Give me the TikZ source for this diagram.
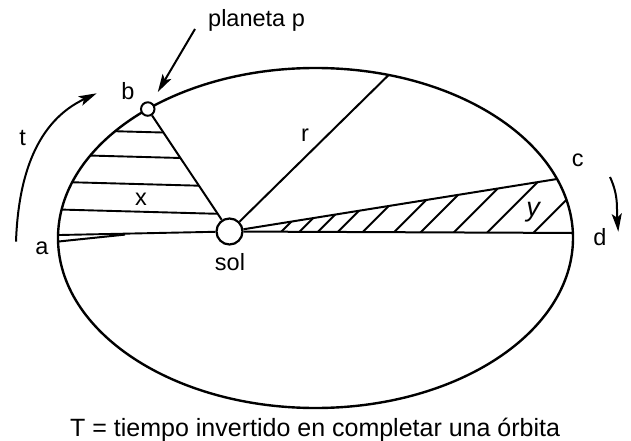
\documentclass[tikz,border=0pt]{standalone}
\usepackage{fontspec}
\setmainfont{Liberation Sans}
\usetikzlibrary{arrows.meta,calc}
\begin{document}
\begin{tikzpicture}[x=1pt,y=1pt,
  orbitline/.style={line width=2.4pt},
  ln/.style={line width=2pt},
  hatch/.style={line width=1.9pt},
  lbl/.style={inner sep=0pt, font=\fontsize{23.5}{28}\selectfont, anchor=base},
  arr/.style={line width=2pt, -{Stealth[length=18pt,width=10pt,inset=4pt]}},
  body/.style={circle, draw, line width=2.2pt, fill=white, inner sep=0pt}
]
\useasboundingbox (0,0) rectangle (631,-441);
% geometry
\coordinate (O) at (315.5,-238);
\coordinate (Sc) at (229.5,-231.5);
\coordinate (Pc) at ($(O)+(130.65:257.5 and 170)$);
\coordinate (R) at ($(O)+(73.5:257.5 and 170)$);
\coordinate (c) at ($(O)+(20.3:257.5 and 170)$);
\coordinate (d) at ($(O)+(1.7:257.5 and 170)$);
\coordinate (A) at ($(O)+(181.2:257.5 and 170)$);
\coordinate (H5) at ($(O)+(179:257.5 and 170)$);
\coordinate (M) at (125,-234.6);
% hatching of area x
\begin{scope}
  \clip (O) ellipse [x radius=257.5pt, y radius=170pt];
  \clip (Sc) -- (Pc) -- ($(Sc)!1.5!(Pc)$) -- (0,-30) -- (0,-225) -- cycle;
  \foreach \yy in {130.8,155.8,183,210.6}
    \draw[hatch] (40,{-(\yy-1.6)}) -- (240,{-(\yy+3.8)});
\end{scope}
% hatching of area y
\begin{scope}
  \clip (O) ellipse [x radius=257.5pt, y radius=170pt];
  \clip (Sc) -- ($(Sc)!1.3!(c)$) -- ($(Sc)!1.3!(d)$) -- cycle;
  \foreach \bb in {280,298.3,316.7,336.7,361.7,393.3,420,453.3,486.7,533.3}
    \draw[hatch] ({\bb-7},-240) -- ++(80,80);
\end{scope}
% orbit
\draw[orbitline] (O) ellipse [x radius=257.5pt, y radius=170pt];
% bodies
\node[body, minimum size=26pt] (sun) at (Sc) {};
\node[body, minimum size=13.5pt, line width=2pt] (planet) at (Pc) {};
% radii
\draw[ln] (planet) -- (sun);
\draw[ln] (sun) -- (R);
\draw[ln] (sun) -- (c);
\draw[ln] (sun) -- (d);
\draw[hatch] (H5) -- (sun);
\draw[ln] (A) -- (M);
% arrows
\coordinate (ps) at (195,-29);
\draw[arr, shorten >=12pt] (ps) -- (planet);
\coordinate (ts) at (16,-241.7);
\coordinate (te) at (96.7,-93.3);
\draw[arr] (ts) to[out=88, in=205] (te);
\coordinate (rs) at (610,-177);
\coordinate (re) at (618.3,-231.7);
\draw[arr] (rs) to[out=-65, in=95] (re);
% labels
\node[lbl] (lt) at (22.7,-145) {t};
\node[lbl] (lb) at (128,-99.3) {b};
\node[lbl] (la) at (42,-254) {a};
\node[lbl] (lx) at (141,-205.7) {x};
\node[lbl] (lsol) at (230,-270) {sol};
\node[lbl] (lr) at (305,-141.7) {r};
\node[lbl] (lc) at (577.7,-166.7) {c};
\node[lbl, font=\fontsize{27}{30}\selectfont\itshape] (ly) at (533,-216) {y};
\node[lbl] (ld) at (600,-245) {d};
\node[lbl, anchor=base west] (lp) at (208,-27) {planeta p};
\node[lbl, anchor=base west, font=\fontsize{25}{30}\selectfont] (cap) at (70,-436) {T = tiempo invertido en completar una órbita};
\end{tikzpicture}
\end{document}
